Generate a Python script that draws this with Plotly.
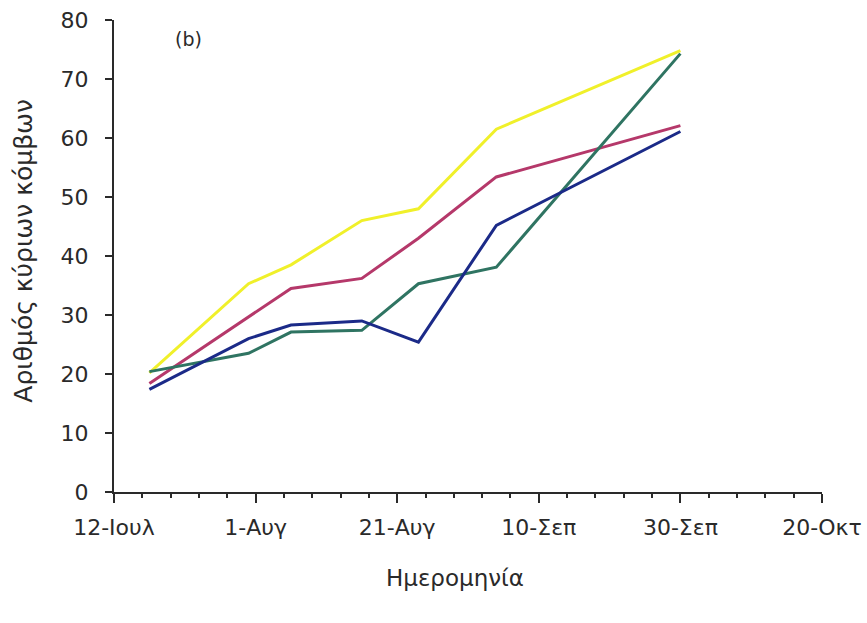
import plotly.graph_objects as go

# Sampling dates and node counts for the four series
dates = ["2003-07-17", "2003-07-31", "2003-08-06", "2003-08-16",
         "2003-08-24", "2003-09-04", "2003-09-30"]

series_yellow = [20.2, 35.3, 38.5, 46.0, 48.0, 61.5, 74.8]
series_magenta = [18.4, 29.6, 34.5, 36.2, 43.0, 53.4, 62.1]
series_blue = [17.4, 26.0, 28.3, 29.0, 25.4, 45.2, 61.1]
series_green = [20.4, 23.5, 27.1, 27.4, 35.3, 38.1, 74.3]

tick_dates = ["2003-07-12", "2003-08-01", "2003-08-21",
              "2003-09-10", "2003-09-30", "2003-10-20"]
tick_labels = ["12-Ιουλ", "1-Αυγ", "21-Αυγ", "10-Σεπ", "30-Σεπ", "20-Οκτ"]

y_ticks = [0, 10, 20, 30, 40, 50, 60, 70, 80]

colors = {
    "yellow": "#F0F02A",
    "magenta": "#B5386A",
    "green": "#2F7462",
    "blue": "#1B2A88",
}

FONT = "DejaVu Sans, Verdana, sans-serif"
TEXT = "#2a2a2a"

fig = go.Figure()
for name, vals in [("yellow", series_yellow), ("magenta", series_magenta),
                   ("green", series_green), ("blue", series_blue)]:
    fig.add_trace(go.Scatter(
        x=dates, y=vals, mode="lines",
        line=dict(color=colors[name], width=3),
        showlegend=False, hoverinfo="skip",
    ))

DAY_MS = 86400000

fig.update_layout(
    width=867, height=623,
    margin=dict(l=114, r=45, t=20, b=131),
    paper_bgcolor="white", plot_bgcolor="white",
    font=dict(family=FONT, size=22, color=TEXT),
    xaxis=dict(
        type="date",
        range=["2003-07-12", "2003-10-20"],
        automargin=False,
        tickmode="array", tickvals=tick_dates, ticktext=tick_labels,
        ticks="outside", ticklen=9, tickwidth=2, tickcolor=TEXT,
        showline=True, linecolor=TEXT, linewidth=2,
        showgrid=False, zeroline=False,
        tickfont=dict(size=22),
        ticklabelstandoff=6,
        minor=dict(tickmode="linear", tick0="2003-07-12", dtick=4 * DAY_MS,
                   ticks="outside", ticklen=4, tickwidth=1.5,
                   tickcolor=TEXT, showgrid=False),
    ),
    yaxis=dict(
        range=[0, 80],
        automargin=False,
        tickmode="array", tickvals=y_ticks,
        ticks="outside", ticklen=7, tickwidth=2, tickcolor=TEXT,
        showline=True, linecolor=TEXT, linewidth=2,
        showgrid=False, zeroline=False,
        tickfont=dict(size=22),
        ticklabelstandoff=12,
    ),
    annotations=[
        dict(text="(b)", x=0.105, y=0.96, xref="paper", yref="paper",
             showarrow=False, font=dict(size=19, color=TEXT),
             xanchor="center", yanchor="middle"),
        dict(text="Ημερομηνία", x=0.482, y=-0.182, xref="paper", yref="paper",
             showarrow=False, font=dict(size=23, color=TEXT),
             xanchor="center", yanchor="middle"),
        dict(text="Αριθμός κύριων κόμβων", x=-0.128, y=0.512,
             xref="paper", yref="paper", textangle=-90,
             showarrow=False, font=dict(size=25, color=TEXT),
             xanchor="center", yanchor="middle"),
    ],
)

fig.write_html("out.html")
